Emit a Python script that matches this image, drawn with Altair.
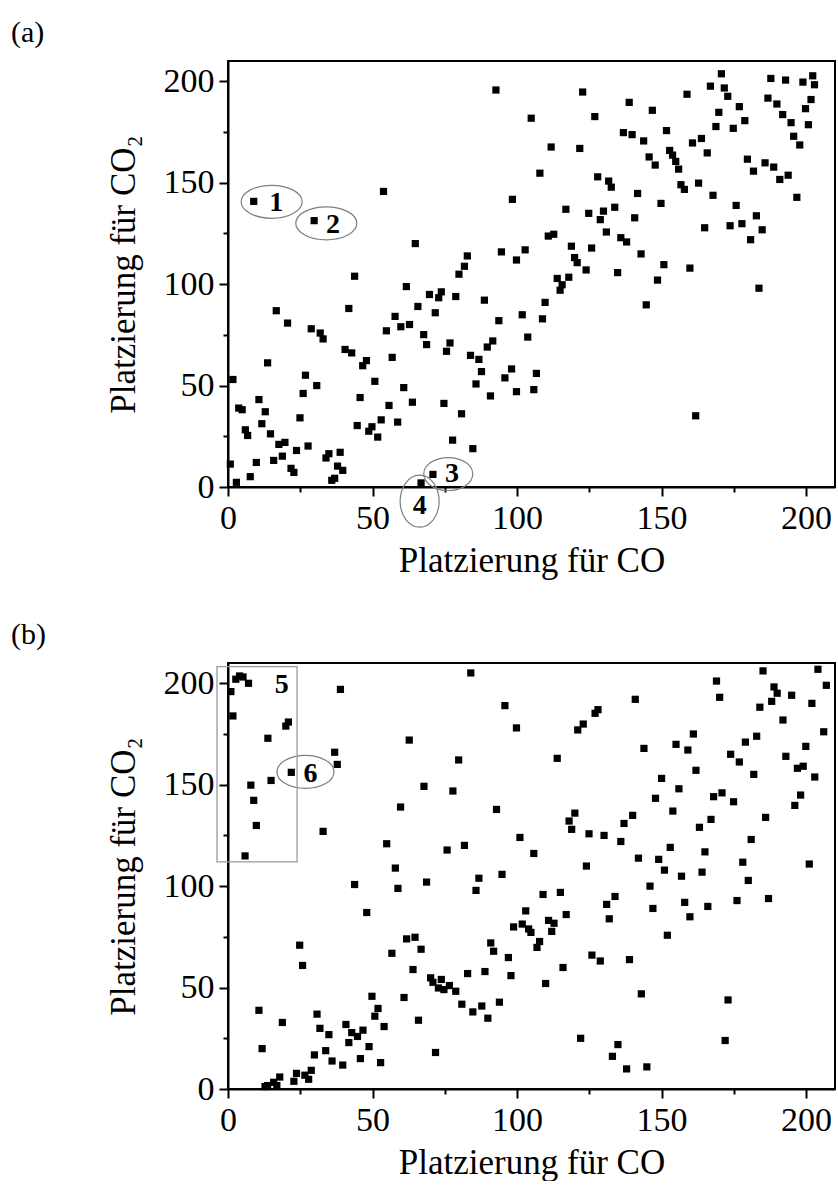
import altair as alt
import pandas as pd

# ---------------- data: panel (a) ----------------
a_x = [92.7, 8.9, 29.8, 53.8, 98.4, 64.8, 94.6, 82.8, 81.8, 79.9, 43.8, 99.8,
       104.9, 122.7, 126.9, 111.8, 121.7, 107.9, 116.9, 124.8, 129.9, 128.8, 133.8, 127.9,
       131.7, 132.6, 138.8, 146.8, 136.8, 139.8, 143.8, 151.7, 158.8, 145.7, 147.8, 141.7,
       149.8, 140.7, 152.8, 153.8, 154.9, 155.9, 156.7, 157.9, 162.8, 167.8, 160.7, 163.8,
       165.8, 166.9, 170.7, 171.7, 172.9, 176.9, 169.8, 168.8, 174.8, 178.8, 187.8, 192.9,
       198.9, 202.3, 202.9, 186.8, 189.9, 201.7, 199.8, 191.9, 194.8, 200.8, 195.7, 197.8,
       179.7, 181.8, 185.8, 188.8, 193.8, 190.9, 196.8, 175.8, 182.8, 177.8, 173.7, 184.8,
       180.8, 164.9, 102.8, 110.8, 112.7, 118.8, 125.8, 119.9, 120.8, 123.9, 113.9, 117.9,
       130.9, 135.9, 137.9, 142.9, 134.8, 150.8, 159.8, 148.6,
       115.6, 114.9, 109.7, 101.8, 108.8, 103.7, 98.1, 106.7, 99.8, 105.8, 144.7, 183.7, 161.8,
       61.7, 69.7, 72.9, 73.8, 78.8, 88.7, 65.7, 71.7, 41.8, 16.7, 20.6, 57.8,
       59.8, 62.8, 28.8, 31.9, 32.9, 54.8, 67.7, 68.7, 76.8, 75.6, 93.7, 91.6,
       89.7, 83.9, 86.8, 87.7, 85.8, 90.8, 95.8, 40.5, 42.8, 47.9, 46.6, 56.8,
       50.8, 60.8, 63.8, 55.7, 45.7, 53.0, 58.7, 49.8, 48.7, 51.8, 44.7, 74.7,
       80.8, 77.7, 84.7, 70.9, 66.8, 1.7, 3.7, 4.9, 6.0, 6.8, 0.8, 2.9,
       7.7, 9.8, 10.7, 12.9, 13.7, 11.7, 14.7, 17.6, 19.7, 18.8, 15.8, 21.8,
       22.8, 23.7, 24.9, 26.0, 26.8, 30.7, 27.7, 33.9, 34.9, 38.8, 37.9, 39.7,
       35.9, 36.9]
a_y = [195.7, 140.8, 131.3, 145.7, 141.8, 120.0, 115.9, 113.9, 108.8, 104.9, 103.9, 111.9,
       181.8, 194.7, 182.6, 167.6, 166.9, 154.7, 136.9, 134.9, 136.0, 131.8, 137.9, 152.9,
       150.8, 147.8, 189.6, 185.7, 174.7, 173.7, 170.6, 175.7, 193.6, 162.7, 158.7, 144.7,
       139.8, 132.7, 165.9, 163.6, 160.5, 156.7, 149.0, 146.7, 149.8, 143.8, 169.6, 171.8,
       164.7, 197.6, 203.7, 196.7, 192.6, 187.5, 184.7, 177.7, 176.8, 180.6, 201.4, 200.6,
       199.6, 202.7, 198.3, 191.7, 188.8, 191.0, 186.5, 183.6, 179.6, 178.6, 172.9, 168.6,
       161.6, 155.7, 159.8, 157.7, 153.7, 151.6, 142.8, 138.8, 133.7, 129.8, 128.8, 126.8,
       121.9, 127.8, 116.9, 123.7, 124.6, 118.7, 117.8, 113.1, 110.6, 107.0, 102.8, 103.4,
       125.7, 122.9, 120.8, 114.9, 105.7, 109.6, 107.9, 102.0,
       99.7, 97.0, 91.0, 84.9, 82.9, 73.9, 58.2, 56.0, 47.0, 48.0, 89.8, 98.0, 35.1,
       98.8, 94.9, 93.3, 96.2, 93.9, 92.1, 89.0, 85.9, 88.0, 86.9, 80.8, 84.1,
       79.0, 80.1, 78.0, 75.9, 73.0, 77.0, 75.1, 70.2, 71.0, 66.9, 82.0, 72.0,
       69.0, 64.9, 62.9, 56.9, 50.8, 44.9, 53.8, 67.8, 66.1, 62.3, 59.8, 63.9,
       52.1, 49.0, 41.8, 40.2, 44.1, 33.1, 32.0, 29.7, 27.5, 24.6, 30.3, 41.2,
       36.1, 23.1, 18.9, 6.2, 2.0, 53.0, 38.9, 38.1, 28.2, 25.4, 11.3, 2.3,
       5.1, 12.1, 43.1, 37.1, 61.2, 31.2, 26.2, 21.0, 22.0, 15.2, 13.1, 9.2,
       7.2, 18.0, 34.1, 46.1, 55.1, 50.0, 20.2, 14.3, 16.4, 17.1, 10.3, 8.2,
       3.3, 4.3]

# ---------------- data: panel (b) ----------------
b_x = [2.7, 4.0, 5.2, 7.1, 1.0, 1.7, 38.9, 20.0, 20.9, 13.8, 21.9, 14.9,
       7.9, 8.9, 36.9, 37.8, 84.0, 95.8, 99.8, 62.7, 79.8, 67.8, 77.8,
       113.9, 121.0, 122.9, 127.0, 128.0, 140.9, 143.9, 150.0, 156.0, 147.9, 155.0, 159.1,
       161.0, 161.9, 169.0, 170.1, 173.9, 176.9, 179.0, 182.9, 181.9, 168.0, 170.9, 174.9,
       185.1, 188.9, 190.0, 188.1, 184.0, 195.0, 192.0, 202.0, 204.1, 207.0, 206.1, 199.9,
       193.0, 197.0, 199.0, 203.0, 198.1,
       9.8, 5.9, 59.7, 32.9, 92.9, 54.9, 57.9, 75.8, 81.8, 86.8, 94.8, 43.8,
       58.8, 68.7, 85.8, 48.0, 24.8, 61.8, 64.7, 66.8, 56.7, 90.9, 91.9, 97.0, 98.8,
       196.1, 186.0, 153.9, 140.0, 137.0, 120.0, 118.0, 118.9, 101.0, 105.8, 124.9, 130.1,
       135.9, 124.0, 167.1, 163.1, 181.0, 153.0, 165.0, 178.1, 201.1, 142.0, 149.0, 151.0,
       156.9, 164.0, 180.0, 146.0, 109.0, 115.0, 133.9, 131.0, 131.9, 117.0, 103.0, 101.8,
       104.0, 104.8, 110.9, 112.8, 112.0, 107.8, 106.9, 147.0, 158.0, 159.8, 166.0, 176.1,
       187.0, 152.0, 125.9, 128.8, 138.9,
       25.8, 64.0, 70.1, 70.9, 73.8, 72.8, 74.7, 76.6, 78.8, 82.9, 88.9, 97.9,
       80.9, 84.7, 87.8, 89.9, 93.9, 60.9, 65.9, 71.8, 49.8, 51.9, 50.8, 54.0,
       48.8, 45.8, 52.8, 40.8, 42.8, 44.8, 46.7, 41.8, 39.7, 30.8, 31.8, 34.9,
       33.8, 36.0, 29.9, 10.7, 11.8, 18.8, 12.8, 13.7, 15.8, 16.9, 17.9, 22.8,
       23.7, 26.6, 27.9, 28.8,
       115.9, 109.9, 143.0, 173.0, 122.0, 134.9, 133.0, 137.9, 144.9, 172.0]
b_y = [202.0, 203.6, 203.1, 200.0, 195.9, 183.9, 197.0, 178.9, 180.9, 172.9, 156.1, 152.1,
       149.8, 142.3, 166.0, 160.0, 205.1, 189.0, 178.0, 172.0, 162.2, 149.2, 146.9,
       163.0, 177.0, 179.9, 185.2, 187.0, 192.1, 167.9, 153.1, 148.0, 143.3, 169.9, 167.1,
       175.0, 157.1, 201.1, 193.1, 165.0, 161.2, 171.0, 173.9, 155.1, 144.1, 146.0, 141.6,
       206.1, 198.2, 195.1, 191.1, 188.2, 194.1, 181.9, 190.1, 206.9, 199.0, 176.1, 168.9,
       164.0, 158.1, 159.1, 153.8, 144.9,
       129.9, 114.9, 139.0, 127.0, 137.8, 120.9, 108.9, 117.8, 120.1, 103.9, 105.8, 100.8,
       98.9, 102.0, 97.9, 87.0, 70.9, 74.0, 74.8, 68.9, 66.9, 72.0, 67.9, 64.8, 79.9,
       139.8, 133.9, 137.0, 134.9, 130.9, 136.0, 132.1, 128.0, 124.0, 116.1, 125.8, 125.0,
       122.0, 109.9, 132.9, 129.0, 123.0, 119.1, 116.9, 111.8, 110.9, 113.8, 113.2, 107.9,
       104.9, 106.9, 102.8, 100.0, 95.9, 96.9, 94.9, 91.0, 83.9, 86.0, 87.8, 81.3,
       78.9, 77.2, 83.1, 81.7, 77.7, 72.7, 69.8, 89.0, 92.0, 84.9, 90.0, 92.9,
       93.9, 75.8, 66.0, 63.1, 63.8,
       60.9, 58.9, 54.8, 52.6, 54.0, 49.8, 49.0, 51.0, 48.2, 56.9, 57.9, 55.9,
       41.8, 38.0, 40.9, 34.9, 42.8, 45.1, 33.9, 18.0, 45.7, 39.7, 35.9, 30.8,
       20.9, 15.0, 13.0, 31.8, 27.8, 25.9, 29.0, 22.9, 11.8, 36.9, 29.9, 26.8,
       18.9, 13.8, 16.8, 38.8, 19.9, 32.8, 1.2, 1.7, 3.3, 1.7, 5.9, 3.8,
       7.7, 6.8, 4.8, 9.2,
       59.9, 52.0, 46.9, 43.9, 25.0, 21.9, 16.1, 9.9, 10.9, 23.9]

# annotations (data coordinates)
a_ell_x = [15.1, 34.0, 76.2, 66.3]
a_ell_y = [140.6, 130.0, 6.4, -7.0]
a_lab = ["1", "2", "3", "4"]
a_lab_x = [16.7, 36.3, 77.5, 66.3]
a_lab_y = [140.1, 129.2, 6.6, -9.5]

b_ell_x = [26.8]
b_ell_y = [156.3]
b_lab = ["5", "6"]
b_lab_x = [18.6, 28.5]
b_lab_y = [199.0, 155.1]
b_box = {"x": [-3.8], "x2": [23.9], "y": [112.0], "y2": [208.2]}

major_ticks = [0, 50, 100, 150, 200]
minor_ticks = [25, 75, 125, 175]

FONT = "Liberation Serif"
W, H = 607, 426
DOM = [0, 210]
ELL_SIZES_A = [(61, 33), (61, 33), (49, 33), (39, 52)]
ELL_SIZES_B = [(57, 33)]


def ellipse_path(w, h):
    if w >= h:
        rx, ry = 1.0, h / w
    else:
        rx, ry = w / h, 1.0
    return (f"M {-rx:.3f} 0 A {rx:.3f} {ry:.3f} 0 1 0 {rx:.3f} 0 "
            f"A {rx:.3f} {ry:.3f} 0 1 0 {-rx:.3f} 0 Z")


def scales():
    return (alt.Scale(domain=DOM, nice=False, zero=False),
            alt.Scale(domain=DOM, nice=False, zero=False))


def panel(px, py, ex, ey, esizes, lab, lx, ly, tag, box=None):
    xs, ys = scales()
    df = pd.DataFrame({"x": px, "y": py})
    pts = alt.Chart(df).mark_square(size=52, color="black", opacity=1).encode(
        x=alt.X("x:Q", scale=xs, axis=alt.Axis(
            values=major_ticks, tickSize=9, title="Platzierung für CO",
            orient="bottom", labelPadding=5, titlePadding=8)),
        y=alt.Y("y:Q", scale=ys, axis=alt.Axis(
            values=major_ticks, tickSize=9, title="Platzierung für CO₂",
            orient="left", labelPadding=5, titlePadding=22)),
    )
    minor = alt.Chart(df).mark_square(size=1, opacity=0).encode(
        x=alt.X("x:Q", scale=xs, axis=alt.Axis(
            values=minor_ticks, tickSize=5, labels=False, domain=False,
            title="", orient="bottom")),
        y=alt.Y("y:Q", scale=ys, axis=alt.Axis(
            values=minor_ticks, tickSize=5, labels=False, domain=False,
            title="", orient="left")),
    )
    layers = [pts, minor]
    for cx, cy, (w, h) in zip(ex, ey, esizes):
        edf = pd.DataFrame({"x": [cx], "y": [cy]})
        layers.append(
            alt.Chart(edf).mark_point(
                shape=ellipse_path(w, h), size=max(w, h) ** 2, filled=False,
                stroke="#7f7f7f", strokeWidth=1.2, opacity=1).encode(
                x=alt.X("x:Q", scale=xs, axis=None),
                y=alt.Y("y:Q", scale=ys, axis=None)))
    if box is not None:
        bdf = pd.DataFrame(box)
        layers.append(
            alt.Chart(bdf).mark_rect(fillOpacity=0, stroke="#9a9a9a",
                                     strokeWidth=1.3).encode(
                x=alt.X("x:Q", scale=xs, axis=None), x2="x2:Q",
                y=alt.Y("y:Q", scale=ys, axis=None), y2="y2:Q"))
    ldf = pd.DataFrame({"x": lx, "y": ly, "t": lab})
    layers.append(
        alt.Chart(ldf).mark_text(font=FONT, fontSize=28, fontWeight="bold",
                                 color="black", align="center",
                                 baseline="middle").encode(
            x=alt.X("x:Q", scale=xs, axis=None),
            y=alt.Y("y:Q", scale=ys, axis=None),
            text="t:N"))
    tdf = pd.DataFrame({"t": [tag]})
    layers.append(
        alt.Chart(tdf).mark_text(font=FONT, fontSize=30, color="black",
                                 align="left", baseline="middle").encode(
            x=alt.value(-217), y=alt.value(-28), text="t:N"))
    return alt.layer(*layers).resolve_axis(x="independent", y="independent").properties(
        width=W, height=H)


pa = panel(a_x, a_y, a_ell_x, a_ell_y, ELL_SIZES_A, a_lab, a_lab_x, a_lab_y, "(a)")
pb = panel(b_x, b_y, b_ell_x, b_ell_y, ELL_SIZES_B, b_lab, b_lab_x, b_lab_y, "(b)", b_box)

chart = alt.vconcat(pa, pb, spacing=40).properties(
    padding={"left": 10, "top": 17, "right": 0, "bottom": 0},
    background="white",
).configure_view(stroke="black", strokeWidth=2).configure_axis(
    labelFont=FONT, labelFontSize=34, labelColor="black",
    titleFont=FONT, titleFontSize=35, titleFontWeight="normal", titleColor="black",
    domainColor="black", domainWidth=2, tickColor="black", tickWidth=2,
    grid=False, labelFlush=False, labelOverlap=False,
)

chart.save("out.html", embed_options={"renderer": "svg", "actions": False})
